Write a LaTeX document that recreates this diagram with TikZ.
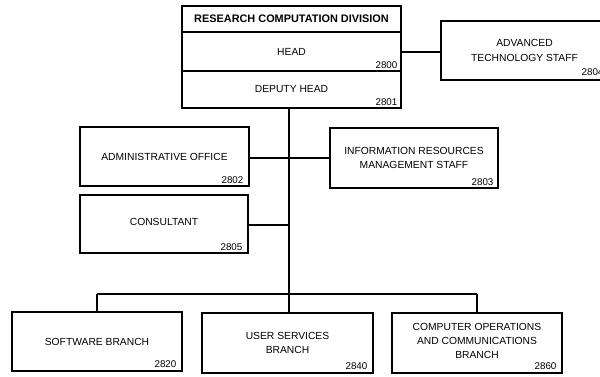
\documentclass[tikz,border=0pt]{standalone}
\usepackage{fontspec}
\setmainfont{Liberation Sans}
\begin{document}
\begin{tikzpicture}[x=1pt,y=-1pt,
  box/.style={draw, line width=1.2pt, inner sep=0pt, align=center,
    font=\fontsize{10.3}{14.2}\selectfont},
  titlebox/.style={box, font=\bfseries\fontsize{10.9}{13}\selectfont},
  num/.style={anchor=base east, inner sep=0pt, font=\fontsize{9.8}{11}\selectfont},
  link/.style={line width=2.2pt}]
\useasboundingbox (0,0) rectangle (600,376);
% top block
\node[titlebox, minimum width=219pt, minimum height=26pt] (title) at (291.5,19) {RESEARCH COMPUTATION DIVISION};
\node[box, minimum width=219pt, minimum height=39pt] (head) at (291.5,51.5) {HEAD};
\node[box, minimum width=219pt, minimum height=37pt] (deputy) at (291.5,89.5) {DEPUTY HEAD};
\node[num] (n2800) at ([xshift=-4pt,yshift=3.5pt]head.south east) {2800};
\node[num] (n2801) at ([xshift=-4pt,yshift=3.5pt]deputy.south east) {2801};
% advanced technology staff
\node[box, minimum width=167pt, minimum height=59pt] (ats) at (524.5,50.5) {ADVANCED\\TECHNOLOGY STAFF};
\node[num] (n2804) at ([xshift=-5pt,yshift=5pt]ats.south east) {2804};
% admin office
\node[box, minimum width=169pt, minimum height=59pt] (admin) at (164.5,156.5) {ADMINISTRATIVE OFFICE};
\node[num] (n2802) at ([xshift=-6pt,yshift=3.5pt]admin.south east) {2802};
% IRM
\node[box, minimum width=168pt, minimum height=60pt] (irm) at (414,158) {INFORMATION RESOURCES\\MANAGEMENT STAFF};
\node[num] (n2803) at ([xshift=-5pt,yshift=3.5pt]irm.south east) {2803};
% consultant
\node[box, minimum width=168pt, minimum height=58pt, text depth=5pt] (cons) at (164,224) {CONSULTANT};
\node[num] (n2805) at ([xshift=-6pt,yshift=3.5pt]cons.south east) {2805};
% branches
\node[box, minimum width=170pt, minimum height=59pt] (sw) at (97,341.5) {SOFTWARE BRANCH};
\node[num] (n2820) at ([xshift=-6pt,yshift=4pt]sw.south east) {2820};
\node[box, minimum width=171pt, minimum height=60pt] (us) at (287.5,343) {USER SERVICES\\BRANCH};
\node[num] (n2840) at ([xshift=-6pt,yshift=4pt]us.south east) {2840};
\node[box, minimum width=170pt, minimum height=60pt, text depth=4pt] (co) at (477,343) {COMPUTER OPERATIONS\\AND COMMUNICATIONS\\BRANCH};
\node[num] (n2860) at ([xshift=-6pt,yshift=4pt]co.south east) {2860};
% connectors
\coordinate (tbot) at (289,108);
\coordinate (tj) at (289,294);
\coordinate (bl) at (97,294);
\coordinate (br) at (477,294);
\coordinate (adminj) at (289,158);
\coordinate (consj) at (289,225);
\draw[link] (tbot) -- (tj);
\draw[link] (head.east |- 0,52) -- (ats.west |- 0,52);
\draw[link] (admin.east |- adminj) -- (irm.west |- adminj);
\draw[link] (cons.east |- consj) -- (consj);
\draw[link] (bl) -- (br);
\draw[link] (bl) -- (sw.north);
\draw[link] (us.north -| tj) -- (tj);
\draw[link] (br) -- (co.north);
\end{tikzpicture}
\end{document}
